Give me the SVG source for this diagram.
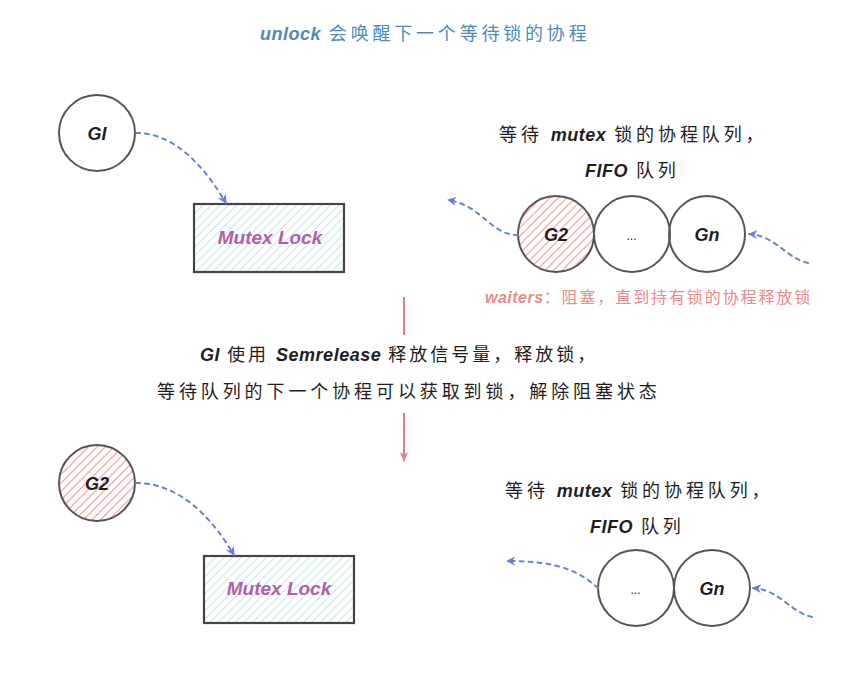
<svg xmlns="http://www.w3.org/2000/svg" width="865" height="684" viewBox="0 0 865 684">
<style>
.t{font-family:"Noto Sans CJK SC","Noto Sans",sans-serif;font-size:18px;fill:#1e1e1e;letter-spacing:3px}
.q{letter-spacing:3.9px}
.lat{font-family:"Liberation Sans","Noto Sans",sans-serif;font-style:italic;font-weight:bold;letter-spacing:0.5px}
.title{fill:#4f8ab5;letter-spacing:3.8px}
.waiters{font-size:16px;fill:#e98b8b;letter-spacing:1.9px}
.node{fill:none;stroke:#555;stroke-width:2}
.box{stroke:#444;stroke-width:2.2}
.lbl{font-family:"Liberation Sans","Noto Sans",sans-serif;font-style:italic;font-weight:bold;font-size:18px;fill:#1e1e1e;text-anchor:middle}
.ml{font-family:"Liberation Sans","Noto Sans",sans-serif;font-style:italic;font-weight:bold;font-size:19px;fill:#b160a8;text-anchor:middle}
.dash{fill:none;stroke:#6580d9;stroke-width:2;stroke-dasharray:4 5;stroke-linecap:round}
.red{fill:none;stroke:#e27f84;stroke-width:2}
</style>
<defs>
<pattern id="hRed" patternUnits="userSpaceOnUse" width="6" height="6" patternTransform="rotate(45)">
<line x1="0" y1="0" x2="0" y2="6" stroke="#f0a0a0" stroke-width="2.4"/>
</pattern>
<pattern id="hTeal" patternUnits="userSpaceOnUse" width="6" height="6" patternTransform="rotate(45)">
<line x1="0" y1="0" x2="0" y2="6" stroke="#c6e8e6" stroke-width="2.2"/>
</pattern>
<marker id="arB" viewBox="0 0 10 10" refX="9" refY="5" markerWidth="9" markerHeight="9" orient="auto" markerUnits="userSpaceOnUse">
<path d="M0,0 L10,5 L0,10 L3,5 Z" fill="#6580d9"/>
</marker>
<marker id="arR" viewBox="0 0 10 10" refX="9" refY="5" markerWidth="10" markerHeight="10" orient="auto" markerUnits="userSpaceOnUse">
<path d="M0,1 L10,5 L0,9 L3,5 Z" fill="#e27f84"/>
</marker>
</defs>

<g id="title"><text class="t title" x="260" y="40"><tspan class="lat">unlock</tspan> 会唤醒下一个等待锁的协程</text></g>

<g id="g1-top"><circle class="node" cx="97" cy="133" r="38"/><text class="lbl" x="97" y="140">GI</text></g>
<g id="lock-top"><rect class="box" x="194" y="204" width="150" height="68" fill="url(#hTeal)"/><text class="ml" x="270" y="244">Mutex Lock</text></g>

<g id="queue-top-label">
<text class="t q" x="499" y="141">等待 <tspan class="lat">mutex</tspan> 锁的协程队列，</text>
<text class="t q" x="585" y="177"><tspan class="lat">FIFO</tspan> 队列</text>
</g>
<g id="g2-top"><circle class="node" cx="556" cy="234" r="38" style="fill:url(#hRed)"/><text class="lbl" x="556" y="241">G2</text></g>
<g id="dots-top"><circle class="node" cx="632" cy="234" r="38"/><text class="lbl" x="632" y="240" style="font-size:12px;font-weight:normal">...</text></g>
<g id="gn-top"><circle class="node" cx="707" cy="234" r="38"/><text class="lbl" x="707" y="241">Gn</text></g>
<g id="waiters"><text class="t waiters" x="485" y="303"><tspan class="lat">waiters</tspan>：阻塞，直到持有锁的协程释放锁</text></g>

<g id="middle-text">
<text class="t" x="200" y="361"><tspan class="lat">GI</tspan> 使用 <tspan class="lat">Semrelease</tspan> 释放信号量，释放锁，</text>
<text class="t" x="157" y="398" style="letter-spacing:3.9px">等待队列的下一个协程可以获取到锁，解除阻塞状态</text>
</g>

<g id="g2-bottom"><circle class="node" cx="97" cy="483" r="38" style="fill:url(#hRed)"/><text class="lbl" x="97" y="490">G2</text></g>
<g id="lock-bottom"><rect class="box" x="204" y="556" width="150" height="67" fill="url(#hTeal)"/><text class="ml" x="279" y="595">Mutex Lock</text></g>

<g id="queue-bottom-label">
<text class="t q" x="505" y="497">等待 <tspan class="lat">mutex</tspan> 锁的协程队列，</text>
<text class="t q" x="590" y="533"><tspan class="lat">FIFO</tspan> 队列</text>
</g>
<g id="dots-bottom"><circle class="node" cx="636" cy="588" r="38"/><text class="lbl" x="636" y="594" style="font-size:12px;font-weight:normal">...</text></g>
<g id="gn-bottom"><circle class="node" cx="712" cy="588" r="38"/><text class="lbl" x="712" y="595">Gn</text></g>

<g id="connectors">
<path class="dash" d="M136,133 C176,133 205,168 226,203" marker-end="url(#arB)"/>
<path class="dash" d="M518,235 C490,235 482,205 448,200" marker-end="url(#arB)"/>
<path class="dash" d="M808,263 C786,258 776,236 749,234" marker-end="url(#arB)"/>
<path class="dash" d="M136,483 C180,483 212,518 234,555" marker-end="url(#arB)"/>
<path class="dash" d="M598,588 C580,572 560,561 507,561" marker-end="url(#arB)"/>
<path class="dash" d="M812,617 C790,612 780,590 753,588" marker-end="url(#arB)"/>
<path class="red" d="M404,297 L404,335"/>
<path class="red" d="M404,413 L404,461" marker-end="url(#arR)"/>
</g>
</svg>
